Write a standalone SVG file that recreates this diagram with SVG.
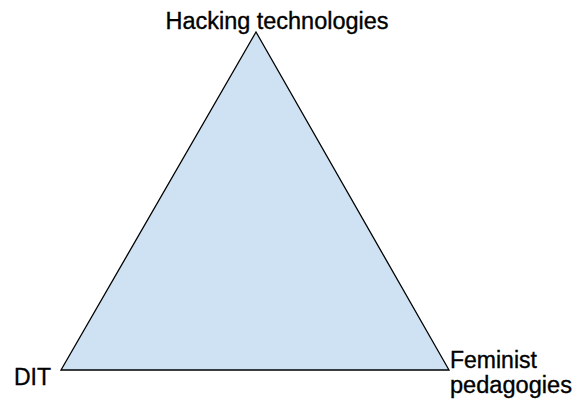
<svg xmlns="http://www.w3.org/2000/svg" width="576" height="403" viewBox="0 0 576 403">
  <style>
    .label { font-family: "Liberation Sans", Arial, sans-serif; font-size: 23px; fill: #000000; stroke: #000000; stroke-width: 0.35px; }
    .shape { fill: #cfe2f3; stroke: #000000; stroke-width: 1.3; stroke-linejoin: miter; }
  </style>
  <rect width="576" height="403" fill="#ffffff"/>
  <g id="triangle">
    <polygon class="shape" points="256,32 61,370 449,370"/>
  </g>
  <g id="node-hacking">
    <text class="label" x="277" y="29" text-anchor="middle" textLength="223" lengthAdjust="spacingAndGlyphs">Hacking technologies</text>
  </g>
  <g id="node-dit">
    <text class="label" x="14" y="385">DIT</text>
  </g>
  <g id="node-feminist">
    <text class="label" x="450" y="368">Feminist</text>
    <text class="label" x="450" y="393" textLength="122" lengthAdjust="spacingAndGlyphs">pedagogies</text>
  </g>
</svg>
